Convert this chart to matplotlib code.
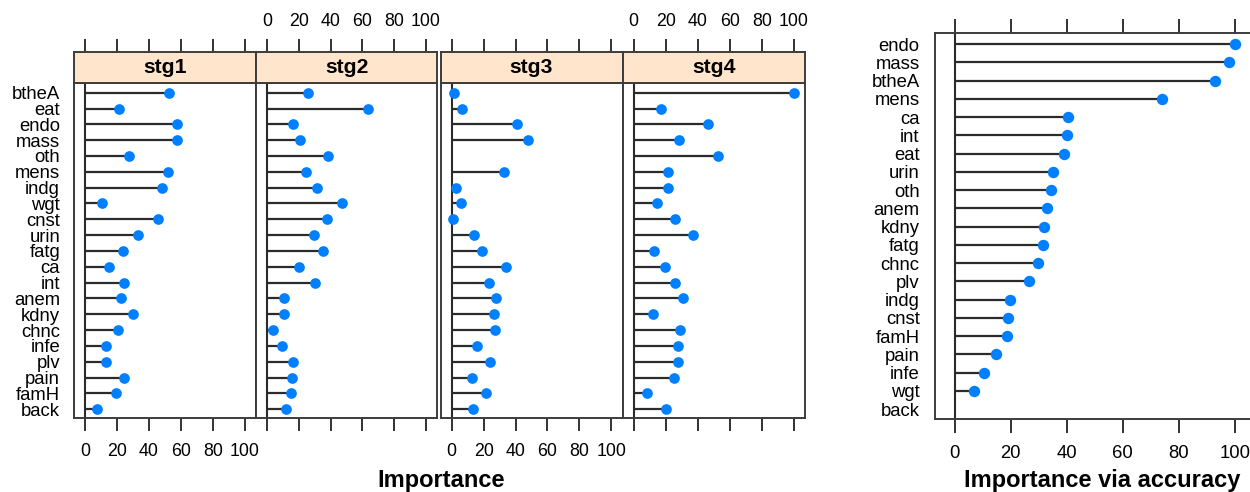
import matplotlib
matplotlib.use("Agg")
import matplotlib.pyplot as plt
import numpy as np

plt.rcParams['font.family'] = ['Liberation Sans', 'DejaVu Sans']

### DATA
features = ["btheA", "eat", "endo", "mass", "oth", "mens", "indg", "wgt", "cnst", "urin",
            "fatg", "ca", "int", "anem", "kdny", "chnc", "infe", "plv", "pain", "famH", "back"]
stages = ["stg1", "stg2", "stg3", "stg4"]

stg1 = [52.7, 21.3, 57.7, 57.3, 27.7, 52.1, 48.3, 10.4, 45.8, 33.1,
        24.0, 15.0, 24.4, 22.7, 30.0, 20.4, 13.3, 13.3, 24.6, 19.4, 7.7]
stg2 = [26.0, 63.5, 16.5, 20.4, 38.3, 24.2, 31.7, 47.1, 37.7, 29.8,
        35.0, 20.2, 30.4, 10.8, 10.4, 4.0, 9.6, 16.1, 15.4, 14.8, 11.6]
stg3 = [1.7, 6.5, 41.0, 47.5, np.nan, 33.0, 2.9, 5.9, 0.9, 13.8,
        19.0, 34.2, 23.1, 27.5, 26.5, 27.3, 16.1, 23.8, 12.8, 21.7, 13.4]
stg4 = [100.0, 17.3, 46.5, 28.6, 52.7, 21.7, 21.3, 14.4, 25.6, 36.9,
        12.9, 19.4, 26.0, 30.6, 11.9, 28.7, 27.7, 27.5, 25.2, 8.3, 20.2]

acc_features = ["endo", "mass", "btheA", "mens", "ca", "int", "eat", "urin", "oth", "anem", "kdny",
                "fatg", "chnc", "plv", "indg", "cnst", "famH", "pain", "infe", "wgt", "back"]
acc_values = [100.0, 97.9, 93.0, 73.8, 40.6, 40.1, 39.0, 35.0, 34.2, 33.0, 31.8,
              31.7, 29.8, 26.4, 19.6, 19.0, 18.6, 14.6, 10.5, 6.8, np.nan]

ticks = [0, 20, 40, 60, 80, 100]

### STYLE
W, H = 1250, 492
dot_col = "#0080ff"
line_col = "#2b2b2b"
frame_col = "#3c3c3c"
strip_col = "#ffe5cc"


def box(x0, x1, y0, y1):
    # pixel box -> figure fraction
    return [x0 / W, 1 - y1 / H, (x1 - x0) / W, (y1 - y0) / H]


def lollipop(ax, values, n, ms):
    y = np.arange(1, n + 1)
    v = np.array(values, dtype=float)
    ok = ~np.isnan(v)
    ax.axvline(0, color=line_col, lw=1.5, zorder=1)
    ax.hlines(y[ok], 0, v[ok], color=line_col, lw=1.6, zorder=2)
    ax.plot(v[ok], y[ok], "o", color=dot_col, ms=ms, mec="none", zorder=3)


fig = plt.figure(figsize=(12.5, 4.92), dpi=100)

### LEFT: per-stage panels
panel_x = [(74, 256), (256, 437), (440.5, 622.5), (622.5, 805)]
n = len(features)
all_vals = [stg1, stg2, stg3, stg4]

for i, (stg, vals) in enumerate(zip(stages, all_vals)):
    x0, x1 = panel_x[i]
    ax = fig.add_axes(box(x0, x1, 82.7, 418))
    lollipop(ax, vals, n, 7.7)
    ax.set_xlim(-7, 107)
    ax.set_ylim(21.55, 0.37)
    ax.set_xticks(ticks)
    ax.tick_params(axis="x", direction="out", length=9.5, width=1.3, color="#222222",
                   labelsize=12.8, pad=8.5, labelbottom=(i % 2 == 0), top=False)
    if i == 0:
        ax.set_yticks(np.arange(1, n + 1))
        ax.set_yticklabels(features)
        ax.tick_params(axis="y", length=0, labelsize=13.3, pad=10)
    else:
        ax.set_yticks([])
    for s in ax.spines.values():
        s.set_color(frame_col)
        s.set_linewidth(1.4)

    # strip on top, carrying the top ticks
    st = fig.add_axes(box(x0, x1, 52, 82.7))
    st.set_facecolor(strip_col)
    st.set_xlim(-7, 107)
    st.set_ylim(0, 1)
    st.set_yticks([])
    st.set_xticks(ticks)
    st.tick_params(axis="x", direction="out", length=9.5, width=1.3, color="#222222",
                   labelsize=12.8, pad=6, top=True, bottom=False, labelbottom=False,
                   labeltop=(i % 2 == 1))
    st.text(0.5, 0.5, stg, transform=st.transAxes, ha="center", va="center",
            fontsize=15.2, fontweight="bold")
    for s in st.spines.values():
        s.set_color(frame_col)
        s.set_linewidth(1.4)

fig.text(441 / W, 1 - 481 / H, "Importance", ha="center", va="center",
         fontsize=17, fontweight="bold")

### RIGHT: overall importance via accuracy
ax2 = fig.add_axes(box(935, 1254.6, 32.7, 419.3))
lollipop(ax2, acc_values, len(acc_features), 8.2)
ax2.set_xlim(-7, 107)
ax2.set_ylim(21.55, 0.38)
ax2.set_xticks(ticks)
ax2.set_yticks(np.arange(1, len(acc_features) + 1))
ax2.set_yticklabels(acc_features)
ax2.tick_params(axis="x", direction="out", length=10, width=1.3, color="#222222",
                labelsize=13.3, pad=8.5, top=True, labeltop=False)
ax2.tick_params(axis="y", length=0, labelsize=13.3, pad=11)
for s in ax2.spines.values():
    s.set_color(frame_col)
    s.set_linewidth(1.4)

fig.text(1102 / W, 1 - 481 / H, "Importance via accuracy", ha="center", va="center",
         fontsize=17, fontweight="bold")

fig.savefig("out.png", dpi=100)
